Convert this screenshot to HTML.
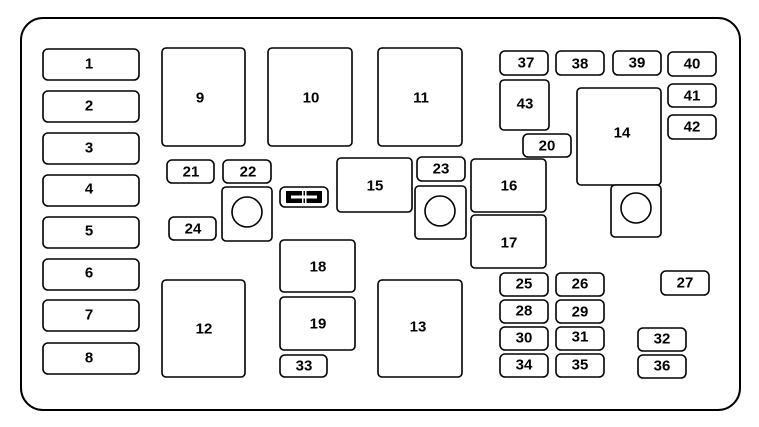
<!DOCTYPE html>
<html><head><meta charset="utf-8"><style>
html,body{margin:0;padding:0;background:#fff;}
svg{display:block}
text{font-family:"Liberation Sans",sans-serif;font-size:15px;font-weight:bold;fill:#000;text-anchor:middle;dominant-baseline:central}
</style></head><body>
<svg width="759" height="427" viewBox="0 0 759 427" xmlns="http://www.w3.org/2000/svg">
<rect x="21" y="18" width="719" height="392" rx="22" fill="none" stroke="#000" stroke-width="2"/>
<g fill="#fff" stroke="#000" stroke-width="1.6">
<rect x="43" y="49" width="96" height="31" rx="5"/>
<rect x="43" y="91" width="96" height="31" rx="5"/>
<rect x="43" y="133" width="96" height="31" rx="5"/>
<rect x="43" y="175" width="96" height="31" rx="5"/>
<rect x="43" y="217" width="96" height="31" rx="5"/>
<rect x="43" y="259" width="96" height="31" rx="5"/>
<rect x="43" y="300" width="96" height="31" rx="5"/>
<rect x="43" y="343" width="96" height="31" rx="5"/>
<rect x="162" y="48" width="83" height="98" rx="4"/>
<rect x="268" y="48" width="84" height="98" rx="4"/>
<rect x="378" y="48" width="84" height="98" rx="4"/>
<rect x="162" y="280" width="83" height="97" rx="4"/>
<rect x="378" y="280" width="84" height="97" rx="4"/>
<rect x="577" y="88" width="84" height="97" rx="4"/>
<rect x="337" y="158" width="75" height="54" rx="4"/>
<rect x="471" y="159" width="75" height="53" rx="4"/>
<rect x="471" y="215" width="75" height="53" rx="4"/>
<rect x="280" y="240" width="75" height="52" rx="4"/>
<rect x="280" y="297" width="75" height="53" rx="4"/>
<rect x="500" y="80" width="49" height="50" rx="4"/>
<rect x="222" y="187" width="50" height="54" rx="4"/>
<rect x="415" y="186" width="51" height="53" rx="4"/>
<rect x="611" y="185" width="50" height="52" rx="4"/>
<rect x="167" y="160" width="47" height="23" rx="5"/>
<rect x="223" y="160" width="48" height="23" rx="5"/>
<rect x="169" y="217" width="47" height="23" rx="5"/>
<rect x="417" y="157" width="48" height="24" rx="5"/>
<rect x="280" y="355" width="47" height="22" rx="5"/>
<rect x="500" y="51" width="48" height="24" rx="5"/>
<rect x="556" y="51" width="48" height="24" rx="5"/>
<rect x="613" y="51" width="48" height="24" rx="5"/>
<rect x="668" y="52" width="48" height="24" rx="5"/>
<rect x="668" y="84" width="48" height="23" rx="5"/>
<rect x="668" y="115" width="48" height="24" rx="5"/>
<rect x="523" y="134" width="48" height="23" rx="5"/>
<rect x="500" y="273" width="48" height="23" rx="5"/>
<rect x="556" y="273" width="48" height="23" rx="5"/>
<rect x="500" y="300" width="48" height="23" rx="5"/>
<rect x="556" y="300" width="48" height="23" rx="5"/>
<rect x="500" y="327" width="48" height="23" rx="5"/>
<rect x="556" y="327" width="48" height="23" rx="5"/>
<rect x="500" y="354" width="48" height="23" rx="5"/>
<rect x="556" y="354" width="48" height="23" rx="5"/>
<rect x="661" y="271" width="48" height="24" rx="5"/>
<rect x="638" y="328" width="48" height="23" rx="5"/>
<rect x="638" y="355" width="48" height="23" rx="5"/>
<rect x="280" y="187" width="48" height="20" rx="5"/>
<circle cx="247" cy="212" r="15"/>
<circle cx="440" cy="211" r="15"/>
<circle cx="636" cy="208" r="15"/>
</g>
<rect x="286" y="191" width="36" height="12" fill="#000"/>
<rect x="291" y="195.5" width="26" height="3" fill="#fff"/>
<rect x="302" y="191" width="1.5" height="12" fill="#fff"/>
<rect x="305" y="191" width="1.5" height="12" fill="#fff"/>
<text x="89" y="64">1</text>
<text x="89" y="106">2</text>
<text x="89" y="148">3</text>
<text x="89" y="189">4</text>
<text x="89" y="231">5</text>
<text x="89" y="273">6</text>
<text x="89" y="315">7</text>
<text x="89" y="358">8</text>
<text x="200" y="98">9</text>
<text x="311" y="98">10</text>
<text x="421" y="98">11</text>
<text x="204" y="329">12</text>
<text x="418" y="327">13</text>
<text x="622" y="133">14</text>
<text x="375" y="186">15</text>
<text x="509" y="186">16</text>
<text x="509" y="243">17</text>
<text x="318" y="267">18</text>
<text x="318" y="324">19</text>
<text x="547" y="146">20</text>
<text x="191" y="172">21</text>
<text x="248" y="172">22</text>
<text x="441" y="169">23</text>
<text x="193" y="229">24</text>
<text x="524" y="284">25</text>
<text x="580" y="284">26</text>
<text x="685" y="283">27</text>
<text x="524" y="311">28</text>
<text x="580" y="312">29</text>
<text x="524" y="338">30</text>
<text x="580" y="337">31</text>
<text x="662" y="339">32</text>
<text x="304" y="366">33</text>
<text x="524" y="365">34</text>
<text x="580" y="365">35</text>
<text x="662" y="366">36</text>
<text x="526" y="63">37</text>
<text x="580" y="64">38</text>
<text x="637" y="63">39</text>
<text x="692" y="64">40</text>
<text x="692" y="96">41</text>
<text x="692" y="127">42</text>
<text x="525" y="104">43</text>
</svg>
</body></html>
